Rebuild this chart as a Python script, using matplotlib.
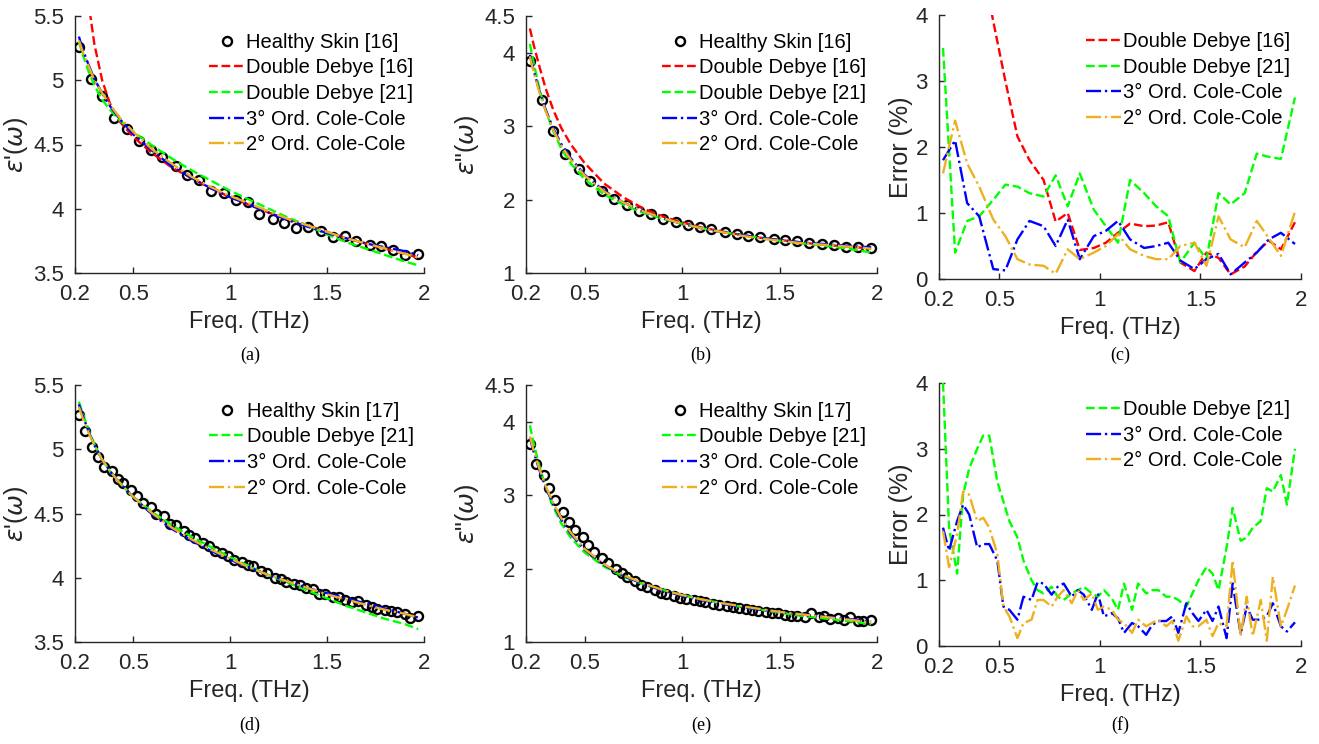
import matplotlib
matplotlib.use("Agg")
import matplotlib.pyplot as plt

plt.rcParams['font.family'] = ['Liberation Sans', 'DejaVu Sans']
plt.rcParams['mathtext.fontset'] = 'dejavusans'

# ---- data ----
freq_16 = [0.22, 0.28, 0.34, 0.40, 0.47, 0.53, 0.59, 0.65, 0.72, 0.78, 0.84, 0.90, 0.97, 1.03,
           1.09, 1.15, 1.22, 1.28, 1.34, 1.40, 1.47, 1.53, 1.59, 1.65, 1.72, 1.78, 1.84, 1.90, 1.97]
freq_17 = [0.22, 0.25, 0.29, 0.32, 0.35, 0.39, 0.42, 0.45, 0.49, 0.52, 0.55, 0.59, 0.62, 0.66,
           0.69, 0.72, 0.76, 0.79, 0.82, 0.86, 0.89, 0.92, 0.96, 0.99, 1.02, 1.06, 1.09, 1.12,
           1.16, 1.19, 1.23, 1.26, 1.29, 1.33, 1.36, 1.39, 1.43, 1.46, 1.49, 1.53, 1.56, 1.59,
           1.63, 1.66, 1.70, 1.73, 1.76, 1.80, 1.83, 1.86, 1.90, 1.93, 1.97]
fit_freq = [0.22, 0.24, 0.27, 0.30, 0.34, 0.38, 0.43, 0.5, 0.6, 0.7, 0.8, 0.9, 1.0, 1.1, 1.2,
            1.3, 1.4, 1.5, 1.6, 1.7, 1.8, 1.9, 1.97]

# (a) real part, skin [16]
a_data = [5.26, 5.01, 4.88, 4.71, 4.62, 4.53, 4.46, 4.40, 4.33, 4.26, 4.22, 4.14, 4.12, 4.07,
          4.05, 3.96, 3.92, 3.89, 3.85, 3.86, 3.83, 3.78, 3.79, 3.75, 3.72, 3.71, 3.68, 3.64, 3.65]
a_dd16 = [6.6, 6.1, 5.6, 5.28, 5.0, 4.82, 4.68, 4.56, 4.43, 4.32, 4.24, 4.16, 4.09, 4.03, 3.97,
          3.92, 3.87, 3.82, 3.77, 3.73, 3.69, 3.65, 3.62]
a_dd21 = [5.30, 5.20, 5.07, 4.96, 4.85, 4.77, 4.69, 4.60, 4.49, 4.39, 4.30, 4.22, 4.14, 4.07,
          4.00, 3.93, 3.87, 3.80, 3.74, 3.69, 3.64, 3.59, 3.56]
a_cc3 = [5.34, 5.24, 5.12, 5.01, 4.90, 4.80, 4.70, 4.58, 4.45, 4.33, 4.24, 4.16, 4.09, 4.03,
         3.97, 3.91, 3.86, 3.81, 3.77, 3.73, 3.70, 3.67, 3.64]
a_cc2 = [5.31, 5.22, 5.11, 5.00, 4.90, 4.81, 4.71, 4.60, 4.46, 4.35, 4.25, 4.17, 4.10, 4.04,
         3.98, 3.92, 3.87, 3.82, 3.77, 3.73, 3.69, 3.65, 3.62]

# (b) imaginary part, skin [16]
b_data = [3.89, 3.35, 2.94, 2.62, 2.41, 2.25, 2.12, 2.01, 1.92, 1.85, 1.80, 1.73, 1.69, 1.66,
          1.63, 1.60, 1.56, 1.53, 1.50, 1.49, 1.46, 1.45, 1.43, 1.41, 1.39, 1.38, 1.36, 1.35, 1.34]
b_dd16 = [4.33, 4.10, 3.80, 3.52, 3.22, 2.98, 2.75, 2.50, 2.22, 2.03, 1.88, 1.77, 1.69, 1.62,
          1.57, 1.52, 1.48, 1.45, 1.42, 1.39, 1.37, 1.35, 1.33]
b_dd21 = [4.12, 3.85, 3.50, 3.22, 2.93, 2.70, 2.49, 2.28, 2.07, 1.93, 1.82, 1.74, 1.67, 1.61,
          1.56, 1.52, 1.48, 1.44, 1.41, 1.38, 1.35, 1.31, 1.28]
b_cc3 = [3.97, 3.75, 3.47, 3.23, 2.97, 2.76, 2.56, 2.34, 2.12, 1.96, 1.84, 1.75, 1.67, 1.61,
         1.56, 1.52, 1.48, 1.45, 1.42, 1.40, 1.38, 1.36, 1.35]
b_cc2 = [3.95, 3.73, 3.45, 3.21, 2.95, 2.74, 2.54, 2.33, 2.11, 1.96, 1.84, 1.75, 1.67, 1.61,
         1.56, 1.51, 1.47, 1.44, 1.41, 1.39, 1.37, 1.35, 1.33]

# (c) error (%), skin [16]
c_dd16 = [9.0, 7.5, 6.2, 5.0, 3.9, 3.0, 2.16, 1.8, 1.5, 0.87, 1.0, 0.44, 0.47, 0.55, 0.7, 0.84,
          0.8, 0.81, 0.86, 0.25, 0.12, 0.4, 0.32, 0.07, 0.19, 0.41, 0.58, 0.45, 0.86]
c_dd21 = [3.5, 0.4, 0.88, 0.95, 1.2, 1.43, 1.4, 1.3, 1.25, 1.57, 1.1, 1.6, 1.05, 0.8, 0.55, 1.5,
          1.3, 1.1, 0.95, 0.25, 0.55, 0.3, 1.3, 1.13, 1.3, 1.9, 1.85, 1.82, 2.75]
c_cc3 = [1.8, 2.1, 1.15, 0.95, 0.15, 0.13, 0.6, 0.88, 0.8, 0.5, 0.9, 0.3, 0.65, 0.73, 0.88, 0.6,
         0.47, 0.5, 0.55, 0.28, 0.15, 0.3, 0.38, 0.07, 0.25, 0.4, 0.6, 0.7, 0.53]
c_cc2 = [1.6, 2.4, 1.75, 1.4, 0.9, 0.65, 0.3, 0.22, 0.2, 0.08, 0.45, 0.3, 0.4, 0.5, 0.68, 0.45,
         0.35, 0.3, 0.3, 0.5, 0.55, 0.2, 0.95, 0.6, 0.48, 0.88, 0.62, 0.35, 1.02]

# (d) real part, skin [17]
d_data = [5.27, 5.14, 5.02, 4.94, 4.86, 4.83, 4.77, 4.74, 4.68, 4.64, 4.58, 4.55, 4.50, 4.48,
          4.42, 4.41, 4.36, 4.33, 4.31, 4.27, 4.25, 4.21, 4.19, 4.17, 4.14, 4.12, 4.10, 4.09,
          4.05, 4.04, 4.00, 3.99, 3.97, 3.95, 3.94, 3.92, 3.91, 3.87, 3.87, 3.85, 3.85, 3.83,
          3.81, 3.82, 3.79, 3.77, 3.76, 3.75, 3.74, 3.73, 3.72, 3.69, 3.70]
d_dd21 = [5.37, 5.28, 5.15, 5.04, 4.92, 4.83, 4.74, 4.63, 4.51, 4.41, 4.32, 4.24, 4.16, 4.09,
          4.02, 3.96, 3.90, 3.84, 3.78, 3.73, 3.68, 3.64, 3.60]
d_cc3 = [5.35, 5.26, 5.14, 5.03, 4.92, 4.83, 4.74, 4.63, 4.49, 4.38, 4.29, 4.21, 4.14, 4.08,
         4.02, 3.97, 3.92, 3.88, 3.84, 3.80, 3.76, 3.72, 3.69]
d_cc2 = [5.33, 5.24, 5.13, 5.03, 4.92, 4.83, 4.74, 4.63, 4.50, 4.39, 4.30, 4.22, 4.15, 4.08,
         4.02, 3.97, 3.92, 3.87, 3.83, 3.79, 3.75, 3.72, 3.69]

# (e) imaginary part, skin [17]
e_data = [3.70, 3.43, 3.27, 3.10, 2.93, 2.77, 2.64, 2.53, 2.43, 2.32, 2.22, 2.15, 2.07, 2.00,
          1.94, 1.88, 1.83, 1.78, 1.75, 1.71, 1.67, 1.65, 1.62, 1.60, 1.59, 1.57, 1.56, 1.54,
          1.52, 1.50, 1.49, 1.47, 1.46, 1.45, 1.44, 1.42, 1.41, 1.40, 1.39, 1.37, 1.35, 1.35,
          1.34, 1.40, 1.34, 1.35, 1.31, 1.33, 1.30, 1.34, 1.29, 1.29, 1.30]
e_dd21 = [3.95, 3.70, 3.38, 3.12, 2.84, 2.62, 2.42, 2.22, 2.03, 1.89, 1.79, 1.71, 1.64, 1.58,
          1.53, 1.48, 1.44, 1.40, 1.36, 1.33, 1.30, 1.27, 1.24]
e_cc3 = [3.78, 3.58, 3.33, 3.11, 2.87, 2.67, 2.47, 2.26, 2.05, 1.90, 1.79, 1.70, 1.63, 1.57,
         1.52, 1.48, 1.44, 1.41, 1.38, 1.35, 1.33, 1.30, 1.28]
e_cc2 = [3.80, 3.60, 3.35, 3.13, 2.89, 2.69, 2.49, 2.27, 2.06, 1.91, 1.80, 1.71, 1.64, 1.58,
         1.53, 1.49, 1.45, 1.41, 1.38, 1.35, 1.32, 1.29, 1.26]

# (f) error (%), skin [17]
f_dd21 = [4.0, 1.8, 1.1, 2.3, 2.7, 3.0, 3.2, 3.2, 2.5, 2.2, 1.9, 1.65, 1.3, 1.0, 0.85, 0.8, 0.9,
          0.75, 0.7, 0.8, 0.85, 0.9, 0.8, 0.75, 0.85, 0.72, 0.55, 0.95, 0.55, 0.95, 0.8, 0.85,
          0.85, 0.75, 0.75, 0.7, 0.6, 0.8, 1.0, 1.2, 1.1, 0.85, 1.5, 2.1, 1.6, 1.65, 1.8, 1.9,
          2.4, 2.35, 2.6, 2.15, 3.0]
f_cc3 = [1.8, 1.45, 1.9, 2.15, 2.0, 1.5, 1.55, 1.55, 1.3, 0.6, 0.55, 0.4, 0.75, 0.7, 0.97, 0.95,
         0.78, 0.9, 0.95, 0.75, 0.85, 0.78, 0.55, 0.8, 0.45, 0.5, 0.42, 0.2, 0.35, 0.3, 0.17,
         0.32, 0.38, 0.38, 0.45, 0.2, 0.65, 0.5, 0.38, 0.55, 0.38, 0.6, 0.12, 0.95, 0.18, 0.6,
         0.4, 0.4, 0.45, 0.65, 0.3, 0.22, 0.36]
f_cc2 = [1.75, 1.2, 1.7, 2.35, 2.3, 1.9, 1.95, 1.8, 1.4, 0.6, 0.45, 0.12, 0.35, 0.4, 0.7, 0.7,
         0.6, 0.75, 0.85, 0.65, 0.85, 0.7, 0.8, 0.55, 0.6, 0.55, 0.4, 0.35, 0.2, 0.4, 0.3, 0.35,
         0.4, 0.3, 0.38, 0.08, 0.45, 0.3, 0.3, 0.4, 0.15, 0.35, 0.3, 1.3, 0.15, 0.75, 0.15, 0.7,
         0.08, 1.05, 0.3, 0.55, 0.92]

x_ticks = [0.2, 0.5, 1, 1.5, 2]
x_ticklabels = ['0.2', '0.5', '1', '1.5', '2']
re_ticks = [3.5, 4, 4.5, 5, 5.5]
re_ticklabels = ['3.5', '4', '4.5', '5', '5.5']
im_ticks = [1, 2, 3, 4, 4.5]
im_ticklabels = ['1', '2', '3', '4', '4.5']
err_ticks = [0, 1, 2, 3, 4]
err_ticklabels = ['0', '1', '2', '3', '4']

# ---- style ----
RED = '#FF0000'
GREEN = '#00FF00'
BLUE = '#0000FF'
ORANGE = '#EDB120'
AXC = '#262626'
FS_TICK = 16
FS_LABEL = 17
FS_YLABEL = 18
FS_LEG = 14.5

W, H = 1319, 744
fig = plt.figure(figsize=(W / 100, H / 100), dpi=100)


def add_ax(left, top, right, bottom):
    return fig.add_axes([left / W, 1 - bottom / H, (right - left) / W, (bottom - top) / H])


def style_ax(ax, ylim, yticks, yticklabels, ylabel):
    ax.set_xlim(0.2, 2)
    ax.set_ylim(*ylim)
    ax.set_xticks(x_ticks)
    ax.set_xticklabels(x_ticklabels)
    ax.set_yticks(yticks)
    ax.set_yticklabels(yticklabels)
    for s in ['top', 'right']:
        ax.spines[s].set_visible(False)
    for s in ['left', 'bottom']:
        ax.spines[s].set_color(AXC)
        ax.spines[s].set_linewidth(1.0)
    ax.tick_params(direction='in', length=4, width=1.0, colors=AXC,
                   labelsize=FS_TICK, pad=8)
    ax.set_xlabel('Freq. (THz)', fontsize=FS_LABEL, color=AXC, labelpad=4)
    ax.set_ylabel(ylabel, fontsize=FS_YLABEL, color=AXC, labelpad=2)
    ax.legend(loc='upper right', bbox_to_anchor=(0.97, 0.935), frameon=False,
              fontsize=FS_LEG, handlelength=1.75, handletextpad=0.1,
              labelspacing=0.33, borderpad=0, borderaxespad=0)


def data_line(ax, x, y, label):
    ax.plot(x, y, 'o', ms=6.5, mfc='none', mec='black', mew=1.7, label=label, zorder=3)


def fit_line(ax, x, y, color, ls, label):
    ax.plot(x, y, color=color, ls=ls, lw=1.7, label=label, zorder=4)


re_label = r"$\varepsilon$'($\omega$)"
im_label = r'$\varepsilon$"($\omega$)'

# (a)
ax = add_ax(75, 16, 424, 273)
data_line(ax, freq_16, a_data, 'Healthy Skin [16]')
fit_line(ax, fit_freq, a_dd16, RED, '--', 'Double Debye [16]')
fit_line(ax, fit_freq, a_dd21, GREEN, '--', 'Double Debye [21]')
fit_line(ax, fit_freq, a_cc3, BLUE, '-.', '3° Ord. Cole-Cole')
fit_line(ax, fit_freq, a_cc2, ORANGE, '-.', '2° Ord. Cole-Cole')
style_ax(ax, (3.5, 5.5), re_ticks, re_ticklabels, re_label)

# (b)
ax = add_ax(526, 16, 877, 273)
data_line(ax, freq_16, b_data, 'Healthy Skin [16]')
fit_line(ax, fit_freq, b_dd16, RED, '--', 'Double Debye [16]')
fit_line(ax, fit_freq, b_dd21, GREEN, '--', 'Double Debye [21]')
fit_line(ax, fit_freq, b_cc3, BLUE, '-.', '3° Ord. Cole-Cole')
fit_line(ax, fit_freq, b_cc2, ORANGE, '-.', '2° Ord. Cole-Cole')
style_ax(ax, (1, 4.5), im_ticks, im_ticklabels, im_label)

# (c)
ax = add_ax(939, 15, 1301, 279)
fit_line(ax, freq_16, c_dd16, RED, '--', 'Double Debye [16]')
fit_line(ax, freq_16, c_dd21, GREEN, '--', 'Double Debye [21]')
fit_line(ax, freq_16, c_cc3, BLUE, '-.', '3° Ord. Cole-Cole')
fit_line(ax, freq_16, c_cc2, ORANGE, '-.', '2° Ord. Cole-Cole')
style_ax(ax, (0, 4), err_ticks, err_ticklabels, 'Error (%)')

# (d)
ax = add_ax(75, 385, 424, 642)
data_line(ax, freq_17, d_data, 'Healthy Skin [17]')
fit_line(ax, fit_freq, d_dd21, GREEN, '--', 'Double Debye [21]')
fit_line(ax, fit_freq, d_cc3, BLUE, '-.', '3° Ord. Cole-Cole')
fit_line(ax, fit_freq, d_cc2, ORANGE, '-.', '2° Ord. Cole-Cole')
style_ax(ax, (3.5, 5.5), re_ticks, re_ticklabels, re_label)

# (e)
ax = add_ax(526, 385, 877, 642)
data_line(ax, freq_17, e_data, 'Healthy Skin [17]')
fit_line(ax, fit_freq, e_dd21, GREEN, '--', 'Double Debye [21]')
fit_line(ax, fit_freq, e_cc3, BLUE, '-.', '3° Ord. Cole-Cole')
fit_line(ax, fit_freq, e_cc2, ORANGE, '-.', '2° Ord. Cole-Cole')
style_ax(ax, (1, 4.5), im_ticks, im_ticklabels, im_label)

# (f)
ax = add_ax(939, 383, 1301, 646)
fit_line(ax, freq_17, f_dd21, GREEN, '--', 'Double Debye [21]')
fit_line(ax, freq_17, f_cc3, BLUE, '-.', '3° Ord. Cole-Cole')
fit_line(ax, freq_17, f_cc2, ORANGE, '-.', '2° Ord. Cole-Cole')
style_ax(ax, (0, 4), err_ticks, err_ticklabels, 'Error (%)')

# captions
captions = ['(a)', '(b)', '(c)', '(d)', '(e)', '(f)']
cap_x = [250, 701, 1120, 250, 701, 1120]
cap_y = [355, 355, 355, 725, 725, 725]
for t, cx, cy in zip(captions, cap_x, cap_y):
    fig.text(cx / W, 1 - cy / H, t, ha='center', va='center', fontsize=13,
             family='Liberation Serif', color='black')

fig.savefig('out.png', dpi=100)
